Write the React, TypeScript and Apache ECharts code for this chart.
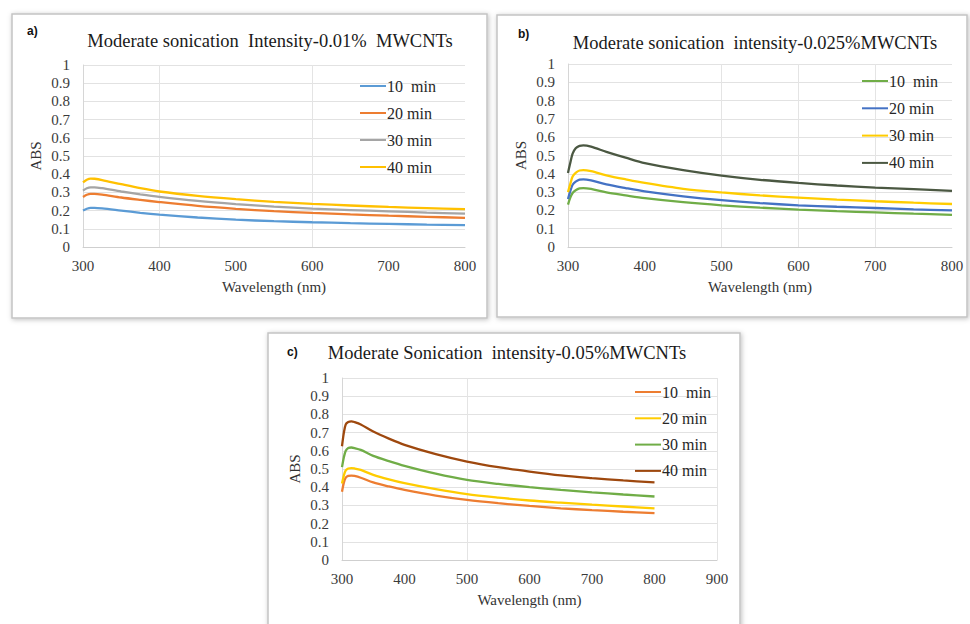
import React, { useEffect, useRef } from "react";
import * as echarts from "echarts";

// Wavelength sampling (nm) for each panel
const wavelengthsA = [300, 305, 310, 315, 325, 350, 375, 400, 450, 500, 550, 600, 650, 700, 750, 800];
const wavelengthsBC = [300, 303, 306, 310, 315, 320, 330, 350, 375, 400, 450, 500, 550, 600, 650, 700, 750, 800];

// a) 0.01% MWCNTs absorbance
const a10 = [0.2, 0.21, 0.215, 0.215, 0.212, 0.2, 0.188, 0.178, 0.162, 0.15, 0.142, 0.136, 0.131, 0.127, 0.123, 0.12];
const a20 = [0.275, 0.287, 0.292, 0.292, 0.288, 0.272, 0.259, 0.247, 0.226, 0.21, 0.197, 0.187, 0.179, 0.172, 0.166, 0.16];
const a30 = [0.31, 0.323, 0.328, 0.328, 0.323, 0.305, 0.289, 0.275, 0.253, 0.236, 0.222, 0.211, 0.203, 0.196, 0.189, 0.183];
const a40 = [0.355, 0.37, 0.376, 0.375, 0.368, 0.345, 0.323, 0.305, 0.281, 0.263, 0.248, 0.237, 0.228, 0.22, 0.214, 0.208];

// b) 0.025% MWCNTs absorbance
const b10 = [0.232, 0.27, 0.295, 0.31, 0.32, 0.322, 0.317, 0.298, 0.282, 0.267, 0.245, 0.228, 0.215, 0.204, 0.196, 0.189, 0.182, 0.176];
const b20 = [0.262, 0.305, 0.34, 0.357, 0.368, 0.37, 0.364, 0.342, 0.322, 0.304, 0.277, 0.256, 0.24, 0.228, 0.22, 0.213, 0.206, 0.2];
const b30 = [0.3, 0.345, 0.385, 0.405, 0.418, 0.42, 0.414, 0.392, 0.37, 0.35, 0.318, 0.298, 0.282, 0.27, 0.259, 0.25, 0.242, 0.235];
const b40 = [0.405, 0.46, 0.51, 0.54, 0.553, 0.555, 0.548, 0.52, 0.488, 0.458, 0.42, 0.39, 0.367, 0.35, 0.336, 0.325, 0.316, 0.307];

// c) 0.05% MWCNTs absorbance
const c10 = [0.375, 0.425, 0.452, 0.462, 0.464, 0.462, 0.452, 0.426, 0.404, 0.385, 0.354, 0.33, 0.312, 0.297, 0.284, 0.274, 0.265, 0.257];
const c20 = [0.42, 0.465, 0.492, 0.503, 0.505, 0.503, 0.495, 0.468, 0.443, 0.422, 0.389, 0.362, 0.343, 0.327, 0.315, 0.304, 0.294, 0.284];
const c30 = [0.51, 0.565, 0.6, 0.615, 0.618, 0.615, 0.605, 0.572, 0.543, 0.517, 0.474, 0.44, 0.418, 0.4, 0.385, 0.372, 0.36, 0.349];
const c40 = [0.625, 0.7, 0.745, 0.758, 0.762, 0.758, 0.745, 0.706, 0.667, 0.633, 0.582, 0.541, 0.51, 0.486, 0.465, 0.45, 0.437, 0.426];

const legendLabels = ["10  min", "20 min", "30 min", "40 min"];
const titles = [
  "Moderate sonication  Intensity-0.01%  MWCNTs",
  "Moderate sonication  intensity-0.025%MWCNTs",
  "Moderate Sonication  intensity-0.05%MWCNTs",
];
const panelTags = ["a)", "b)", "c)"];
const xMaxes = [800, 800, 900];
// faint vertical guides
const verticalGuides = [[400, 600], [500, 600, 700], [500, 900]];

const colorsA = ["#5B9BD5", "#ED7D31", "#A5A5A5", "#FFC000"];
const colorsB = ["#70AD47", "#4472C4", "#FFCC00", "#4B5842"];
const colorsC = ["#ED7D31", "#FFCC00", "#70AD47", "#9E480E"];

const SERIF = "'Liberation Serif', 'Times New Roman', serif";

const panels = [
  { x: wavelengthsA, ys: [a10, a20, a30, a40], colors: colorsA },
  { x: wavelengthsBC, ys: [b10, b20, b30, b40], colors: colorsB },
  { x: wavelengthsBC, ys: [c10, c20, c30, c40], colors: colorsC },
];

// layout of the three framed charts
const frames = [
  { x: 12, y: 14, w: 475, h: 304 },
  { x: 497, y: 15, w: 470, h: 302 },
  { x: 268, y: 333, w: 472, h: 300 },
];
const grids = [
  { left: 83, top: 65, width: 382, height: 182 },
  { left: 568, top: 64, width: 384, height: 183 },
  { left: 342, top: 378, width: 375, height: 182 },
];
const titlePos = [
  [270, 41],
  [755, 43],
  [507, 353],
];
const tagPos = [
  [27, 31],
  [518, 34],
  [287, 352],
];
const legendPos = [
  { left: 360, top: 78, itemGap: 11 },
  { left: 862, top: 73, itemGap: 11.3 },
  { left: 635, top: 384, itemGap: 10.3 },
];

export default function App() {
  const ref = useRef<HTMLDivElement>(null);

  useEffect(() => {
    if (!ref.current) return;
    const chart = echarts.init(ref.current, undefined, { renderer: "svg" });

    const series: any[] = [];
    const legends: any[] = [];
    const nameToLabel: Record<string, string> = {};

    panels.forEach((p, pi) => {
      const names: string[] = [];
      p.ys.forEach((ys, si) => {
        const name = `p${pi}s${si}`;
        names.push(name);
        nameToLabel[name] = legendLabels[si];
        const s: any = {
          name,
          type: "line",
          xAxisIndex: pi,
          yAxisIndex: pi,
          data: p.x.map((w, i) => [w, ys[i]]),
          smooth: 0.3,
          symbol: "none",
          lineStyle: { width: 2.3, color: p.colors[si] },
          itemStyle: { color: p.colors[si] },
          z: 3,
        };
        if (si === 0) {
          s.markLine = {
            silent: true,
            symbol: "none",
            label: { show: false },
            lineStyle: { color: "#e4e4e4", width: 1, type: "solid" },
            data: verticalGuides[pi].map((v) => ({ xAxis: v })),
            z: 1,
          };
        }
        series.push(s);
      });
      legends.push({
        orient: "vertical",
        left: legendPos[pi].left,
        top: legendPos[pi].top,
        padding: 0,
        itemGap: legendPos[pi].itemGap,
        itemWidth: 26,
        itemHeight: 2,
        icon: "rect",
        data: names,
        selectedMode: false,
        formatter: (n: string) => nameToLabel[n],
        textStyle: { fontFamily: SERIF, fontSize: 16, color: "#262626", lineHeight: 16, padding: [0, 0, 0, -4] },
      });
    });

    const graphics: any[] = [];
    frames.forEach((f) => {
      graphics.push({
        type: "rect",
        z: -1,
        shape: { x: f.x, y: f.y, width: f.w, height: f.h },
        style: {
          fill: "#ffffff",
          stroke: "#c4c4c4",
          lineWidth: 1.5,
          shadowBlur: 5,
          shadowColor: "rgba(0,0,0,0.25)",
          shadowOffsetX: 1,
          shadowOffsetY: 1,
        },
      });
    });
    titles.forEach((t, i) => {
      graphics.push({
        type: "text",
        x: titlePos[i][0],
        y: titlePos[i][1],
        style: {
          text: t,
          fill: "#1a1a1a",
          font: `18.5px ${SERIF}`,
          align: "center",
          verticalAlign: "middle",
        },
      });
      graphics.push({
        type: "text",
        x: tagPos[i][0],
        y: tagPos[i][1],
        style: {
          text: panelTags[i],
          fill: "#111111",
          font: `bold 12px 'Liberation Sans', Arial, sans-serif`,
          verticalAlign: "middle",
        },
      });
    });

    chart.setOption({
      animation: false,
      backgroundColor: "#ffffff",
      grid: grids.map((g) => ({ ...g, containLabel: false })),
      xAxis: grids.map((_, i) => ({
        type: "value",
        gridIndex: i,
        min: 300,
        max: xMaxes[i],
        interval: 100,
        name: "Wavelength (nm)",
        nameLocation: "middle",
        nameGap: 32,
        nameTextStyle: { fontFamily: SERIF, fontSize: 15, color: "#333333" },
        axisLine: { show: true, lineStyle: { color: "#cfcfcf", width: 1 } },
        axisTick: { show: false },
        splitLine: { show: false },
        axisLabel: { fontFamily: SERIF, fontSize: 15, color: "#3a3a3a", margin: 11 },
      })),
      yAxis: grids.map((_, i) => ({
        type: "value",
        gridIndex: i,
        min: 0,
        max: 1,
        interval: 0.1,
        name: "ABS",
        nameLocation: "middle",
        nameRotate: 90,
        nameGap: 40,
        nameTextStyle: { fontFamily: SERIF, fontSize: 15, color: "#333333" },
        axisLine: { show: true, lineStyle: { color: "#d6d6d6", width: 1 } },
        axisTick: { show: false },
        splitLine: { show: true, lineStyle: { color: "#e2e2e2", width: 1 } },
        axisLabel: {
          fontFamily: SERIF,
          fontSize: 15,
          color: "#3a3a3a",
          margin: 13,
          formatter: (v: number) => String(Math.round(v * 10) / 10),
        },
      })),
      legend: legends,
      graphic: graphics,
      series,
    });

    return () => chart.dispose();
  }, []);

  return (
    <div
      ref={ref}
      style={{ position: "absolute", left: 0, top: 0, width: 970, height: 624, background: "#ffffff" }}
    />
  );
}
